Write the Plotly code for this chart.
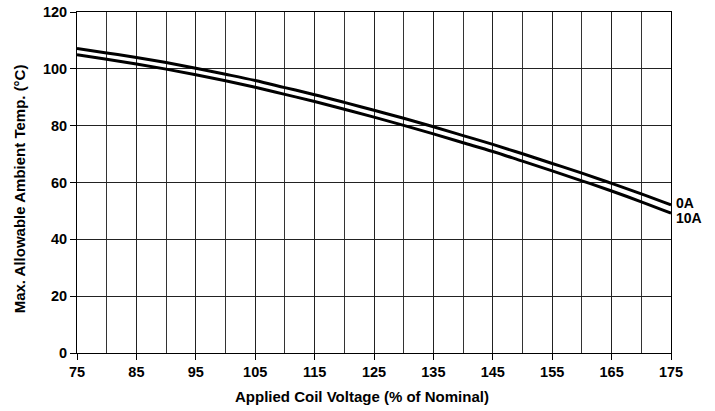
import plotly.graph_objects as go

voltage = [75, 80, 85, 90, 95, 100, 105, 110, 115, 120, 125, 130, 135, 140, 145, 150, 155, 160, 165, 170, 175]
temp_0A = [107.2, 105.6, 104.0, 102.2, 100.2, 98.1, 95.9, 93.4, 90.9, 88.2, 85.4, 82.6, 79.6, 76.5, 73.4, 70.1, 66.7, 63.3, 59.7, 56.0, 52.1]
temp_10A = [105.0, 103.4, 101.7, 99.9, 97.9, 95.8, 93.5, 91.0, 88.5, 85.8, 83.0, 80.1, 77.1, 74.0, 70.9, 67.5, 64.1, 60.6, 57.0, 53.2, 49.2]
series_names = ["0A", "10A"]

FONT = "Liberation Sans, Arial, sans-serif"

fig = go.Figure()
for name, vals in zip(series_names, [temp_0A, temp_10A]):
    fig.add_trace(go.Scatter(x=voltage, y=vals, mode="lines", name=name,
                             line=dict(color="black", width=3, shape="spline", smoothing=1.0),
                             showlegend=False))

# end labels
fig.add_annotation(x=voltage[-1], y=temp_0A[-1], text="0A", showarrow=False,
                   xanchor="left", yanchor="middle", xshift=3, yshift=2,
                   font=dict(family=FONT, size=14, color="black", weight="bold"))
fig.add_annotation(x=voltage[-1], y=temp_10A[-1], text="10A", showarrow=False,
                   xanchor="left", yanchor="middle", xshift=3, yshift=-5,
                   font=dict(family=FONT, size=14, color="black", weight="bold"))

# axis titles
fig.add_annotation(x=0.48, y=-0.128, xref="paper", yref="paper",
                   text="Applied Coil Voltage (% of Nominal)", showarrow=False,
                   xanchor="center", yanchor="middle",
                   font=dict(family=FONT, size=15, color="black", weight="bold"))
fig.add_annotation(x=-0.0976, y=0.48, xref="paper", yref="paper",
                   text="Max. Allowable Ambient Temp. (°C)", showarrow=False,
                   textangle=-90, xanchor="center", yanchor="middle",
                   font=dict(family=FONT, size=15, color="black", weight="bold"))

fig.update_layout(
    width=715, height=411,
    margin=dict(l=77, r=44, t=12, b=58, autoexpand=False),
    paper_bgcolor="white", plot_bgcolor="white",
    font=dict(family=FONT, color="black"),
    xaxis=dict(range=[75, 175], tick0=75, dtick=10, showgrid=True,
               gridcolor="#222", gridwidth=1,
               minor=dict(dtick=5, tick0=75, showgrid=True, gridcolor="#333", gridwidth=1),
               showline=True, linecolor="black", linewidth=1, mirror=True,
               ticks="outside", ticklen=6, tickcolor="black",
               zeroline=False, automargin=False,
               tickfont=dict(family=FONT, size=14.5, color="black", weight="bold")),
    yaxis=dict(range=[0, 120], dtick=20, showgrid=True,
               gridcolor="#222", gridwidth=1,
               showline=True, linecolor="black", linewidth=1, mirror=True,
               ticks="outside", ticklen=6, tickcolor="black",
               zeroline=False, automargin=False,
               tickfont=dict(family=FONT, size=14.5, color="black", weight="bold")),
)

fig.write_html("out.html", config={"displayModeBar": False},
               post_script="document.body.style.margin='0';")
